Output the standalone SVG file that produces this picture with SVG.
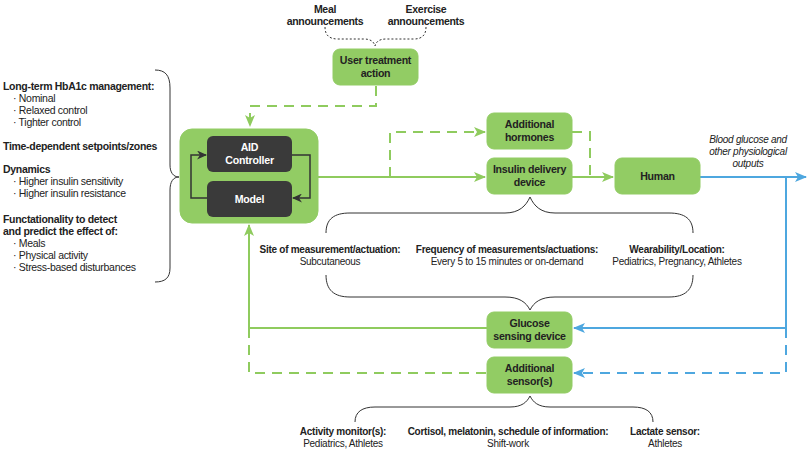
<svg xmlns="http://www.w3.org/2000/svg" width="812" height="450" viewBox="0 0 812 450">
<defs>
<marker id="ag" markerWidth="12" markerHeight="10" refX="11" refY="5" orient="auto" markerUnits="userSpaceOnUse"><path d="M0,0 L12,5 L0,10 L3,5 z" fill="#8fcb5e"/></marker>
<marker id="ab" markerWidth="12" markerHeight="10" refX="11" refY="5" orient="auto" markerUnits="userSpaceOnUse"><path d="M0,0 L12,5 L0,10 L3,5 z" fill="#4ea7df"/></marker>
<marker id="ak" markerWidth="10" markerHeight="9" refX="9" refY="4.5" orient="auto" markerUnits="userSpaceOnUse"><path d="M0,0 L10,4.5 L0,9 L3,4.5 z" fill="#333"/></marker>
</defs>
<style>
text{font-family:"Liberation Sans",Arial,sans-serif;font-size:10px;letter-spacing:-0.27px;fill:#222}
.b{font-weight:bold}
.c{text-anchor:middle}
.i{font-style:italic}
.l{font-size:10.5px;letter-spacing:-0.3px}
.box{fill:#92cc64;stroke:#92cc64}
.dk{fill:#3a3a3a}
.wt{fill:#fff;font-weight:bold;font-size:10.6px;letter-spacing:-0.2px;text-anchor:middle}
.bt{font-weight:bold;font-size:10.6px;letter-spacing:-0.25px;text-anchor:middle;fill:#222}
.g{fill:none;stroke:#8fcb5e;stroke-width:2}
.gd{fill:none;stroke:#8fcb5e;stroke-width:2;stroke-dasharray:10,7}
.bl{fill:none;stroke:#4ea7df;stroke-width:2}
.bd{fill:none;stroke:#4ea7df;stroke-width:2;stroke-dasharray:10,7}
.br{fill:none;stroke:#333;stroke-width:1}
.dot{fill:none;stroke:#333;stroke-width:1;stroke-dasharray:2,2}
</style>

<g id="connectors">
<path class="gd" d="M376,86 V106 H250 V126" marker-end="url(#ag)"/>
<path class="g" d="M318,177 H485" marker-end="url(#ag)"/>
<path class="gd" d="M390,177 V132 H485" marker-end="url(#ag)"/>
<path class="gd" d="M572,132 H590 V177"/>
<path class="g" d="M572,177 H613" marker-end="url(#ag)"/>
<path class="bl" d="M700,177 H806" marker-end="url(#ab)"/>
<path class="bl" d="M786,177 V328 H574" marker-end="url(#ab)"/>
<path class="bd" d="M786,328 V373 H574" marker-end="url(#ab)"/>
<path class="g" d="M487,328 H249 V225" marker-end="url(#ag)"/>
<path class="gd" d="M249,328 V373 H487"/>
</g>

<g id="braces">
<path class="dot" d="M325,27 C325,35 329,39 338,39 L364,39 C371,39 374,42 375,46 C376,42 379,39 386,39 L414,39 C422,39 426,35 426,27"/>
<path class="br" d="M155,70 C165,70 170,75 170,88 L170,165 C170,172 173,177 179,177 C173,177 170,182 170,190 L170,268 C170,278 165,282 155,282"/>
<path class="br" d="M326,233 C326,219 334,213 350,213 L505,213 C519,213 526,206 530,197 C534,206 541,213 555,213 L669,213 C685,213 693,219 693,233"/>
<path class="br" d="M326,275 C326,290 334,297 350,297 L505,297 C519,297 526,302 530,310 C534,302 541,297 555,297 L669,297 C685,297 693,290 693,275"/>
<path class="br" d="M355,422 C355,412 362,407 375,407 L510,407 C522,407 527,402 530,396 C533,402 538,407 550,407 L633,407 C646,407 653,412 653,422"/>
</g>

<g id="announcements">
<text class="b c l" x="325" y="13">Meal</text>
<text class="b c l" x="325" y="25">announcements</text>
<text class="b c l" x="426" y="13">Exercise</text>
<text class="b c l" x="426" y="25">announcements</text>
</g>

<g id="user-treatment">
<rect class="box" x="333" y="49" width="85" height="36" rx="7"/>
<text class="bt" x="375.5" y="64">User treatment</text>
<text class="bt" x="375.5" y="77">action</text>
</g>

<g id="aid">
<rect class="box" x="180" y="129" width="138" height="94" rx="12"/>
<g id="aid-controller">
<rect class="dk" x="207" y="136" width="85" height="36" rx="6"/>
<text class="wt" x="249.5" y="151">AID</text>
<text class="wt" x="249.5" y="164">Controller</text>
</g>
<g id="model">
<rect class="dk" x="207" y="181" width="85" height="36" rx="6"/>
<text class="wt" x="249.5" y="203">Model</text>
</g>
<path fill="none" stroke="#333" stroke-width="1.5" d="M207,198 H191 V155 H206" marker-end="url(#ak)"/>
<path fill="none" stroke="#333" stroke-width="1.5" d="M292,155 H310 V198 H293" marker-end="url(#ak)"/>
</g>

<g id="additional-hormones">
<rect class="box" x="487" y="113" width="85" height="36" rx="7"/>
<text class="bt" x="529.5" y="128">Additional</text>
<text class="bt" x="529.5" y="141">hormones</text>
</g>
<g id="insulin-delivery">
<rect class="box" x="487" y="158" width="85" height="36" rx="7"/>
<text class="bt" x="529.5" y="173">Insulin delivery</text>
<text class="bt" x="529.5" y="186">device</text>
</g>
<g id="human">
<rect class="box" x="615" y="158" width="85" height="36" rx="7"/>
<text class="bt" x="657.5" y="180">Human</text>
</g>
<g id="glucose-sensing">
<rect class="box" x="487" y="312" width="85" height="36" rx="7"/>
<text class="bt" x="529.5" y="327">Glucose</text>
<text class="bt" x="529.5" y="340">sensing device</text>
</g>
<g id="additional-sensors">
<rect class="box" x="487" y="357" width="85" height="36" rx="7"/>
<text class="bt" x="529.5" y="372">Additional</text>
<text class="bt" x="529.5" y="385">sensor(s)</text>
</g>

<g id="outputs-label">
<text class="i c" x="748" y="143">Blood glucose and</text>
<text class="i c" x="748" y="155">other physiological</text>
<text class="i c" x="748" y="167">outputs</text>
</g>

<g id="left-notes">
<text class="b l" x="3" y="90">Long-term HbA1c management:</text>
<text class="l" x="13" y="102">· Nominal</text>
<text class="l" x="13" y="114">· Relaxed control</text>
<text class="l" x="13" y="126">· Tighter control</text>
<text class="b l" x="3" y="150">Time-dependent setpoints/zones</text>
<text class="b l" x="3" y="173">Dynamics</text>
<text class="l" x="13" y="185">· Higher insulin sensitivity</text>
<text class="l" x="13" y="197">· Higher insulin resistance</text>
<text class="b l" x="3" y="223">Functationality to detect</text>
<text class="b l" x="3" y="235">and predict the effect of:</text>
<text class="l" x="13" y="247">· Meals</text>
<text class="l" x="13" y="259">· Physical activity</text>
<text class="l" x="13" y="271">· Stress-based disturbances</text>
</g>

<g id="device-notes">
<text class="b c" x="330" y="253">Site of measurement/actuation:</text>
<text class="c" x="330" y="265">Subcutaneous</text>
<text class="b c" x="507" y="253">Frequency of measurements/actuations:</text>
<text class="c" x="507" y="265">Every 5 to 15 minutes or on-demand</text>
<text class="b c" x="677" y="253">Wearability/Location:</text>
<text class="c" x="677" y="265">Pediatrics, Pregnancy, Athletes</text>
</g>

<g id="sensor-notes">
<text class="b c" x="343" y="435">Activity monitor(s):</text>
<text class="c" x="343" y="447">Pediatrics, Athletes</text>
<text class="b c" x="508" y="435">Cortisol, melatonin, schedule of information:</text>
<text class="c" x="508" y="447">Shift-work</text>
<text class="b c" x="665" y="435">Lactate sensor:</text>
<text class="c" x="665" y="447">Athletes</text>
</g>
</svg>
